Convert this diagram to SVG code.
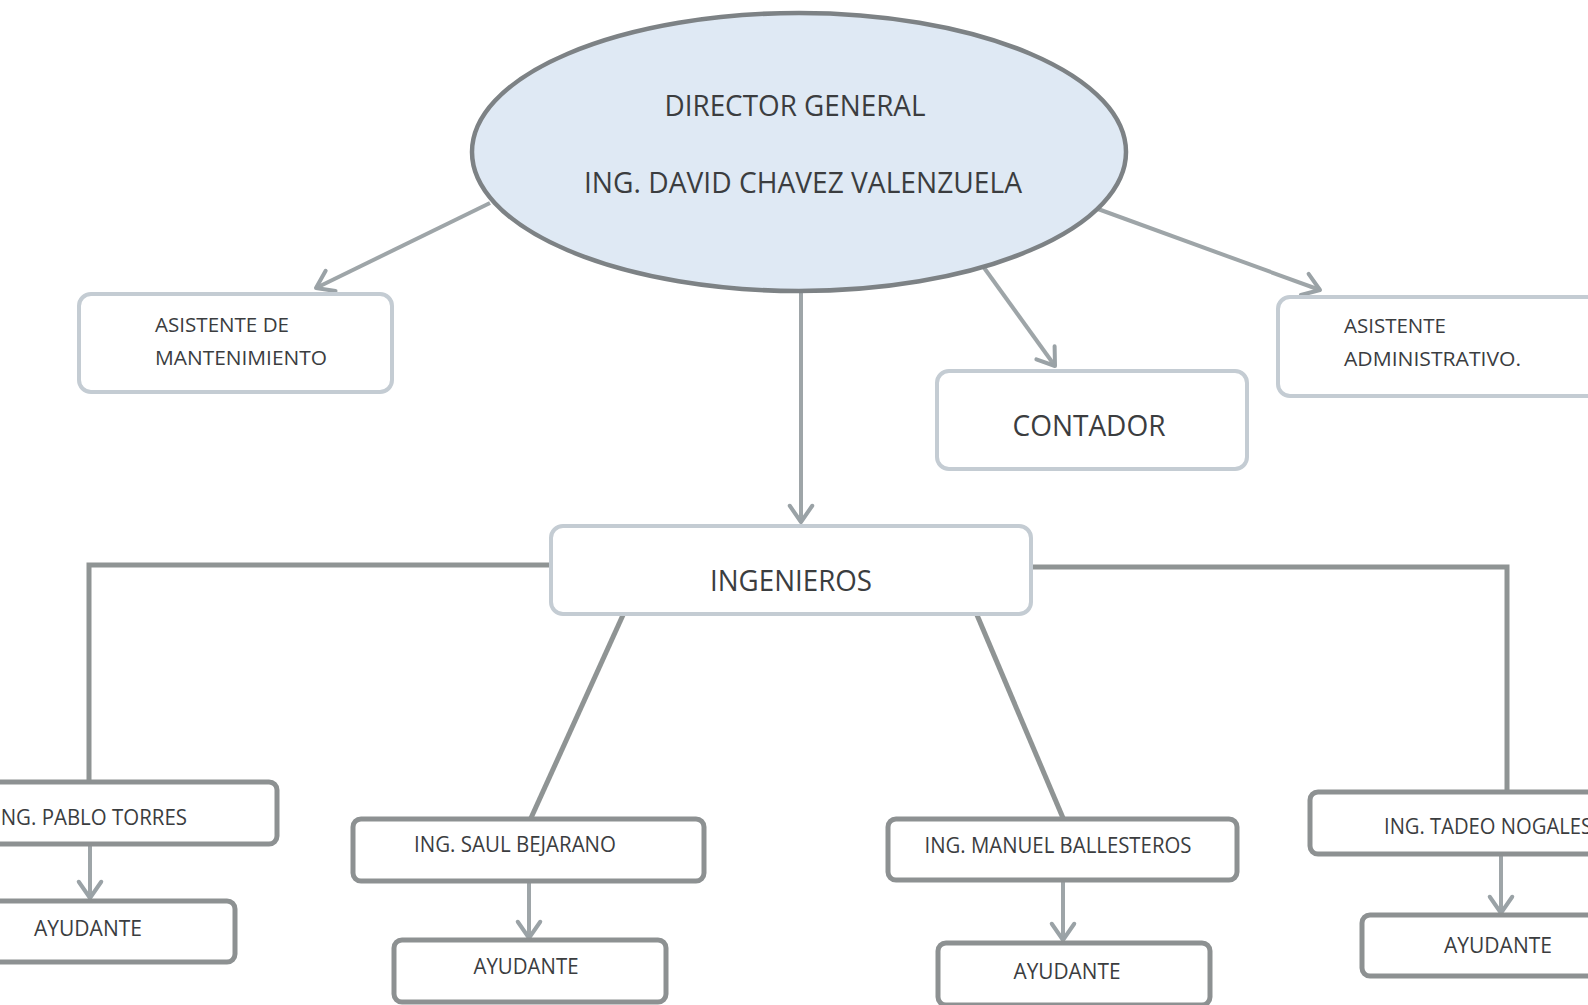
<svg xmlns="http://www.w3.org/2000/svg" width="1588" height="1005" viewBox="0 0 1588 1005">
<defs>
<marker id="chev" markerUnits="userSpaceOnUse" markerWidth="30" markerHeight="30" viewBox="-16 -12 20 24" refX="0" refY="0" orient="auto">
<path d="M-13,-9 L0,0 L-13,9" fill="none" stroke="#9aa2a6" stroke-width="3.2" stroke-linecap="round" stroke-linejoin="round"/>
</marker>
<style>
text{font-family:"Open Sans","Liberation Sans",sans-serif;fill:#3b3d3f}
.top{fill:#ffffff;stroke:#c4ccd3;stroke-width:4}
.low{fill:#ffffff;stroke:#8d9192;stroke-width:5}
.con{fill:none;stroke:#9ea5a8;stroke-width:4}
.bar{fill:none;stroke:#8f9494;stroke-width:5}
.sm{font-size:20px}
.md{font-size:21px}
.lg{font-size:29px}
</style>
</defs>
<rect width="1588" height="1005" fill="#ffffff"/>
<g id="connectors">
<line class="con" x1="490" y1="203" x2="316" y2="288" marker-end="url(#chev)"/>
<line class="con" x1="801" y1="292" x2="801" y2="522" marker-end="url(#chev)"/>
<line class="con" x1="977" y1="258" x2="1055" y2="366" marker-end="url(#chev)"/>
<line class="con" x1="1087" y1="205" x2="1320" y2="290" marker-end="url(#chev)"/>
<polyline class="bar" points="550,565 89,565 89,782"/>
<polyline class="bar" points="1031,567 1507,567 1507,791"/>
<line class="bar" x1="623" y1="615" x2="531" y2="818"/>
<line class="bar" x1="977" y1="615" x2="1063" y2="818"/>
<line class="con" x1="90" y1="845" x2="90" y2="898" marker-end="url(#chev)"/>
<line class="con" x1="529" y1="882" x2="529" y2="938" marker-end="url(#chev)"/>
<line class="con" x1="1063" y1="881" x2="1063" y2="940" marker-end="url(#chev)"/>
<line class="con" x1="1501" y1="855" x2="1501" y2="913" marker-end="url(#chev)"/>
</g>
<g id="director">
<ellipse cx="799" cy="152" rx="327" ry="139" fill="#dfe9f4" stroke="#7d8285" stroke-width="4.5"/>
<text class="lg" x="795" y="116" text-anchor="middle" textLength="261" lengthAdjust="spacingAndGlyphs">DIRECTOR GENERAL</text>
<text class="lg" x="803" y="193" text-anchor="middle" textLength="438" lengthAdjust="spacingAndGlyphs">ING. DAVID CHAVEZ VALENZUELA</text>
</g>
<g id="asistente-mantenimiento">
<rect class="top" x="79" y="294" width="313" height="98" rx="12"/>
<text class="sm" x="155" y="332" textLength="134" lengthAdjust="spacingAndGlyphs">ASISTENTE DE</text>
<text class="sm" x="155" y="365" textLength="172" lengthAdjust="spacingAndGlyphs">MANTENIMIENTO</text>
</g>
<g id="contador">
<rect class="top" x="937" y="371" width="310" height="98" rx="12"/>
<text class="lg" x="1089" y="436" text-anchor="middle" textLength="153" lengthAdjust="spacingAndGlyphs">CONTADOR</text>
</g>
<g id="asistente-administrativo">
<rect class="top" x="1278" y="297" width="330" height="99" rx="12"/>
<text class="sm" x="1344" y="333" textLength="102" lengthAdjust="spacingAndGlyphs">ASISTENTE</text>
<text class="sm" x="1344" y="366" textLength="177" lengthAdjust="spacingAndGlyphs">ADMINISTRATIVO.</text>
</g>
<g id="ingenieros">
<rect class="top" x="551" y="526" width="480" height="88" rx="12"/>
<text class="lg" x="791" y="591" text-anchor="middle" textLength="162" lengthAdjust="spacingAndGlyphs">INGENIEROS</text>
</g>
<g id="pablo">
<rect class="low" x="-60" y="782" width="337" height="62" rx="8"/>
<text class="md" x="-5" y="825" textLength="192" lengthAdjust="spacingAndGlyphs">ING. PABLO TORRES</text>
</g>
<g id="ayudante-1">
<rect class="low" x="-60" y="901" width="295" height="61" rx="8"/>
<text class="md" x="88" y="936" text-anchor="middle" textLength="108" lengthAdjust="spacingAndGlyphs">AYUDANTE</text>
</g>
<g id="saul">
<rect class="low" x="353" y="819" width="351" height="62" rx="8"/>
<text class="md" x="515" y="852" text-anchor="middle" textLength="202" lengthAdjust="spacingAndGlyphs">ING. SAUL BEJARANO</text>
</g>
<g id="ayudante-2">
<rect class="low" x="394" y="940" width="272" height="62" rx="8"/>
<text class="md" x="526" y="974" text-anchor="middle" textLength="105" lengthAdjust="spacingAndGlyphs">AYUDANTE</text>
</g>
<g id="manuel">
<rect class="low" x="888" y="819" width="349" height="61" rx="8"/>
<text class="md" x="1058" y="853" text-anchor="middle" textLength="267" lengthAdjust="spacingAndGlyphs">ING. MANUEL BALLESTEROS</text>
</g>
<g id="ayudante-3">
<rect class="low" x="938" y="943" width="272" height="62" rx="8"/>
<text class="md" x="1067" y="979" text-anchor="middle" textLength="107" lengthAdjust="spacingAndGlyphs">AYUDANTE</text>
</g>
<g id="tadeo">
<rect class="low" x="1310" y="792" width="320" height="62" rx="8"/>
<text class="md" x="1384" y="834" textLength="208" lengthAdjust="spacingAndGlyphs">ING. TADEO NOGALES</text>
</g>
<g id="ayudante-4">
<rect class="low" x="1362" y="915" width="260" height="61" rx="8"/>
<text class="md" x="1498" y="953" text-anchor="middle" textLength="108" lengthAdjust="spacingAndGlyphs">AYUDANTE</text>
</g>
</svg>
